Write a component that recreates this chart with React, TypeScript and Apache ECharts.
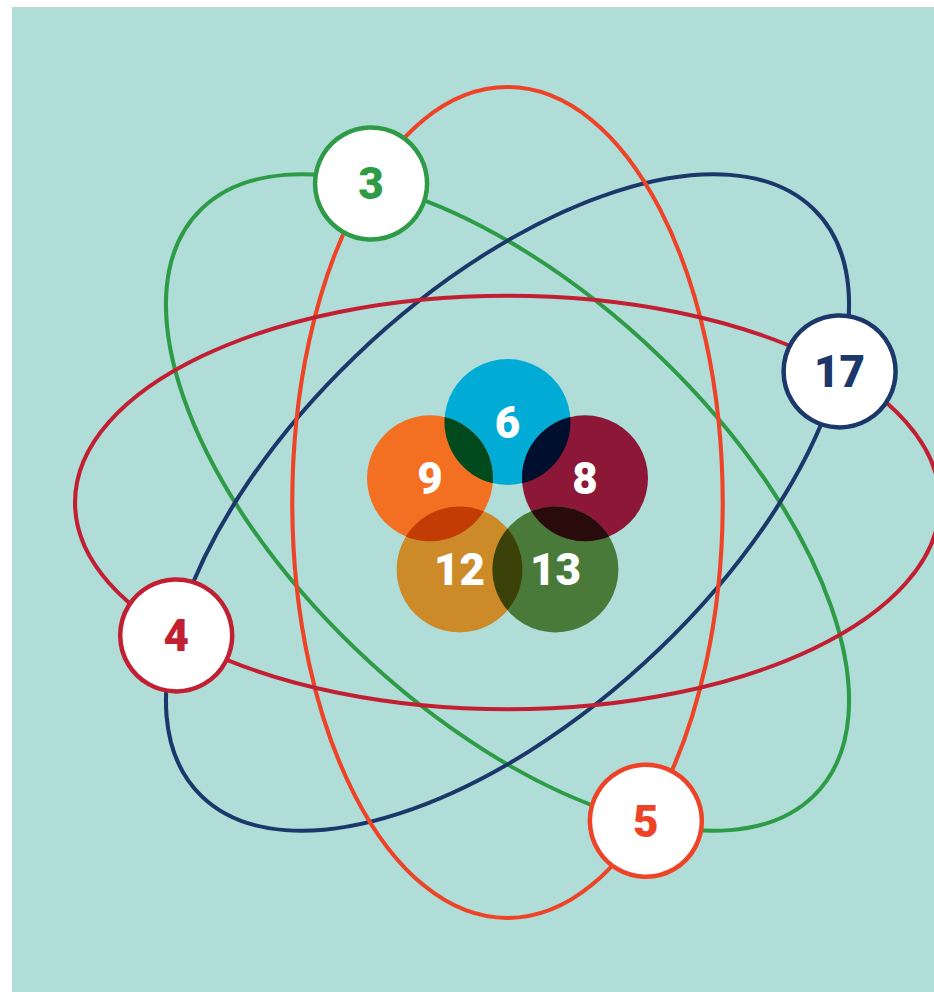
import React, { useEffect, useRef } from 'react';
import * as echarts from 'echarts';

// ---- data ----
// goals placed on the four orbits (red horizontal, vertical, green tilted, navy tilted)
const orbitGoals = [3, 17, 4, 5];
// goals in the nucleus, clockwise from the top
const innerGoals = [6, 8, 13, 12, 9];

// ---- style ----
const goalColors: Record<number, string> = {
  3: '#2e9b47',
  4: '#c21f32',
  5: '#ee4327',
  17: '#1c3769',
  6: '#00abd6',
  8: '#8c1736',
  9: '#f36f22',
  12: '#cd8a28',
  13: '#4a7a3a',
};
const BG = '#b0ddd8';

// ---- layout ----
const WIDTH = 922;
const HEIGHT = 985;
const CX = 495.5;
const CY = 495.5;
const SX = 1.02;
const SY = 0.98;
const ORBIT_A = 424;
const ORBIT_B = 211;
// per goal: angle (screen degrees) of orbit major axis and parametric position on it
const orbitAxis: Record<number, number> = { 3: 45, 17: -45, 4: 0, 5: 90 };
const orbitT: Record<number, number> = { 3: -140, 17: 40, 4: 140, 5: -40 };
const orbitDrawOrder = [3, 17, 5, 4];
const GOAL_R = 56;
const INNER_R = 63;
const INNER_RING = 81.5;
const FONT = 'Roboto, "Noto Sans", sans-serif';

const rad = (d: number) => (d * Math.PI) / 180;

function hexToRgb(h: string) {
  const n = parseInt(h.slice(1), 16);
  return [(n >> 16) & 255, (n >> 8) & 255, n & 255];
}
function multiply(a: string, b: string) {
  const x = hexToRgb(a);
  const y = hexToRgb(b);
  const c = x.map((v, i) => Math.round((v * y[i]) / 255));
  return `rgb(${c[0]},${c[1]},${c[2]})`;
}

let registered = false;
function registerLens() {
  if (registered) return;
  registered = true;
  const Lens = (echarts.graphic as any).extendShape({
    type: 'lens',
    shape: { x1: 0, y1: 0, x2: 0, y2: 0, r: 0 },
    buildPath(ctx: any, s: any) {
      const dx = s.x2 - s.x1;
      const dy = s.y2 - s.y1;
      const d = Math.hypot(dx, dy);
      const phi = Math.atan2(dy, dx);
      const al = Math.acos(Math.min(1, d / (2 * s.r)));
      ctx.moveTo(s.x1 + s.r * Math.cos(phi - al), s.y1 + s.r * Math.sin(phi - al));
      ctx.arc(s.x1, s.y1, s.r, phi - al, phi + al, false);
      ctx.arc(s.x2, s.y2, s.r, phi + Math.PI - al, phi + Math.PI + al, false);
      ctx.closePath();
    },
  });
  echarts.graphic.registerShape('lens', Lens);
}

function buildElements() {
  const els: any[] = [];

  // orbits
  els.push({
    type: 'group',
    x: CX,
    y: CY,
    scaleX: SX,
    scaleY: SY,
    children: orbitDrawOrder.map((g) => ({
      type: 'ellipse',
      rotation: -rad(orbitAxis[g]),
      shape: { cx: 0, cy: 0, rx: ORBIT_A, ry: ORBIT_B },
      style: { fill: 'none', stroke: goalColors[g], lineWidth: 4 },
    })),
  });

  // goal bubbles on the orbits
  orbitGoals.forEach((g) => {
    const phi = rad(orbitAxis[g]);
    const t = rad(orbitT[g]);
    const u = ORBIT_A * Math.cos(t);
    const v = ORBIT_B * Math.sin(t);
    const px = u * Math.cos(phi) - v * Math.sin(phi);
    const py = u * Math.sin(phi) + v * Math.cos(phi);
    const x = CX + SX * px;
    const y = CY + SY * py;
    els.push({
      type: 'circle',
      shape: { cx: x, cy: y, r: GOAL_R },
      style: { fill: '#ffffff', stroke: goalColors[g], lineWidth: 4.5 },
    });
    els.push({
      type: 'text',
      style: {
        x,
        y: y + 1,
        text: String(g),
        fill: goalColors[g],
        textAlign: 'center',
        textVerticalAlign: 'middle',
        fontSize: 44,
        fontWeight: 900,
        fontFamily: FONT,
      },
    });
  });

  // nucleus
  const centers = innerGoals.map((g, i) => {
    const a = rad(-90 + i * 72);
    return { g, x: CX + INNER_RING * Math.cos(a), y: CY + 1 + INNER_RING * Math.sin(a) };
  });
  centers.forEach((c) => {
    els.push({
      type: 'circle',
      shape: { cx: c.x, cy: c.y, r: INNER_R },
      style: { fill: goalColors[c.g] },
    });
  });
  centers.forEach((c, i) => {
    const n = centers[(i + 1) % centers.length];
    els.push({
      type: 'lens',
      shape: { x1: c.x, y1: c.y, x2: n.x, y2: n.y, r: INNER_R },
      style: { fill: multiply(goalColors[c.g], goalColors[n.g]) },
    });
  });
  centers.forEach((c) => {
    els.push({
      type: 'text',
      style: {
        x: c.x,
        y: c.y + 1,
        text: String(c.g),
        fill: '#ffffff',
        textAlign: 'center',
        textVerticalAlign: 'middle',
        fontSize: 44,
        fontWeight: 900,
        fontFamily: FONT,
      },
    });
  });

  return els;
}

export default function App() {
  const ref = useRef<HTMLDivElement>(null);
  useEffect(() => {
    if (!ref.current) return;
    registerLens();
    const chart = echarts.init(ref.current, null, { renderer: 'svg' });
    chart.setOption({
      animation: false,
      backgroundColor: BG,
      graphic: { elements: buildElements() },
    });
    return () => chart.dispose();
  }, []);
  return (
    <div
      ref={ref}
      style={{ position: 'absolute', left: 12, top: 7, width: WIDTH, height: HEIGHT }}
    />
  );
}
